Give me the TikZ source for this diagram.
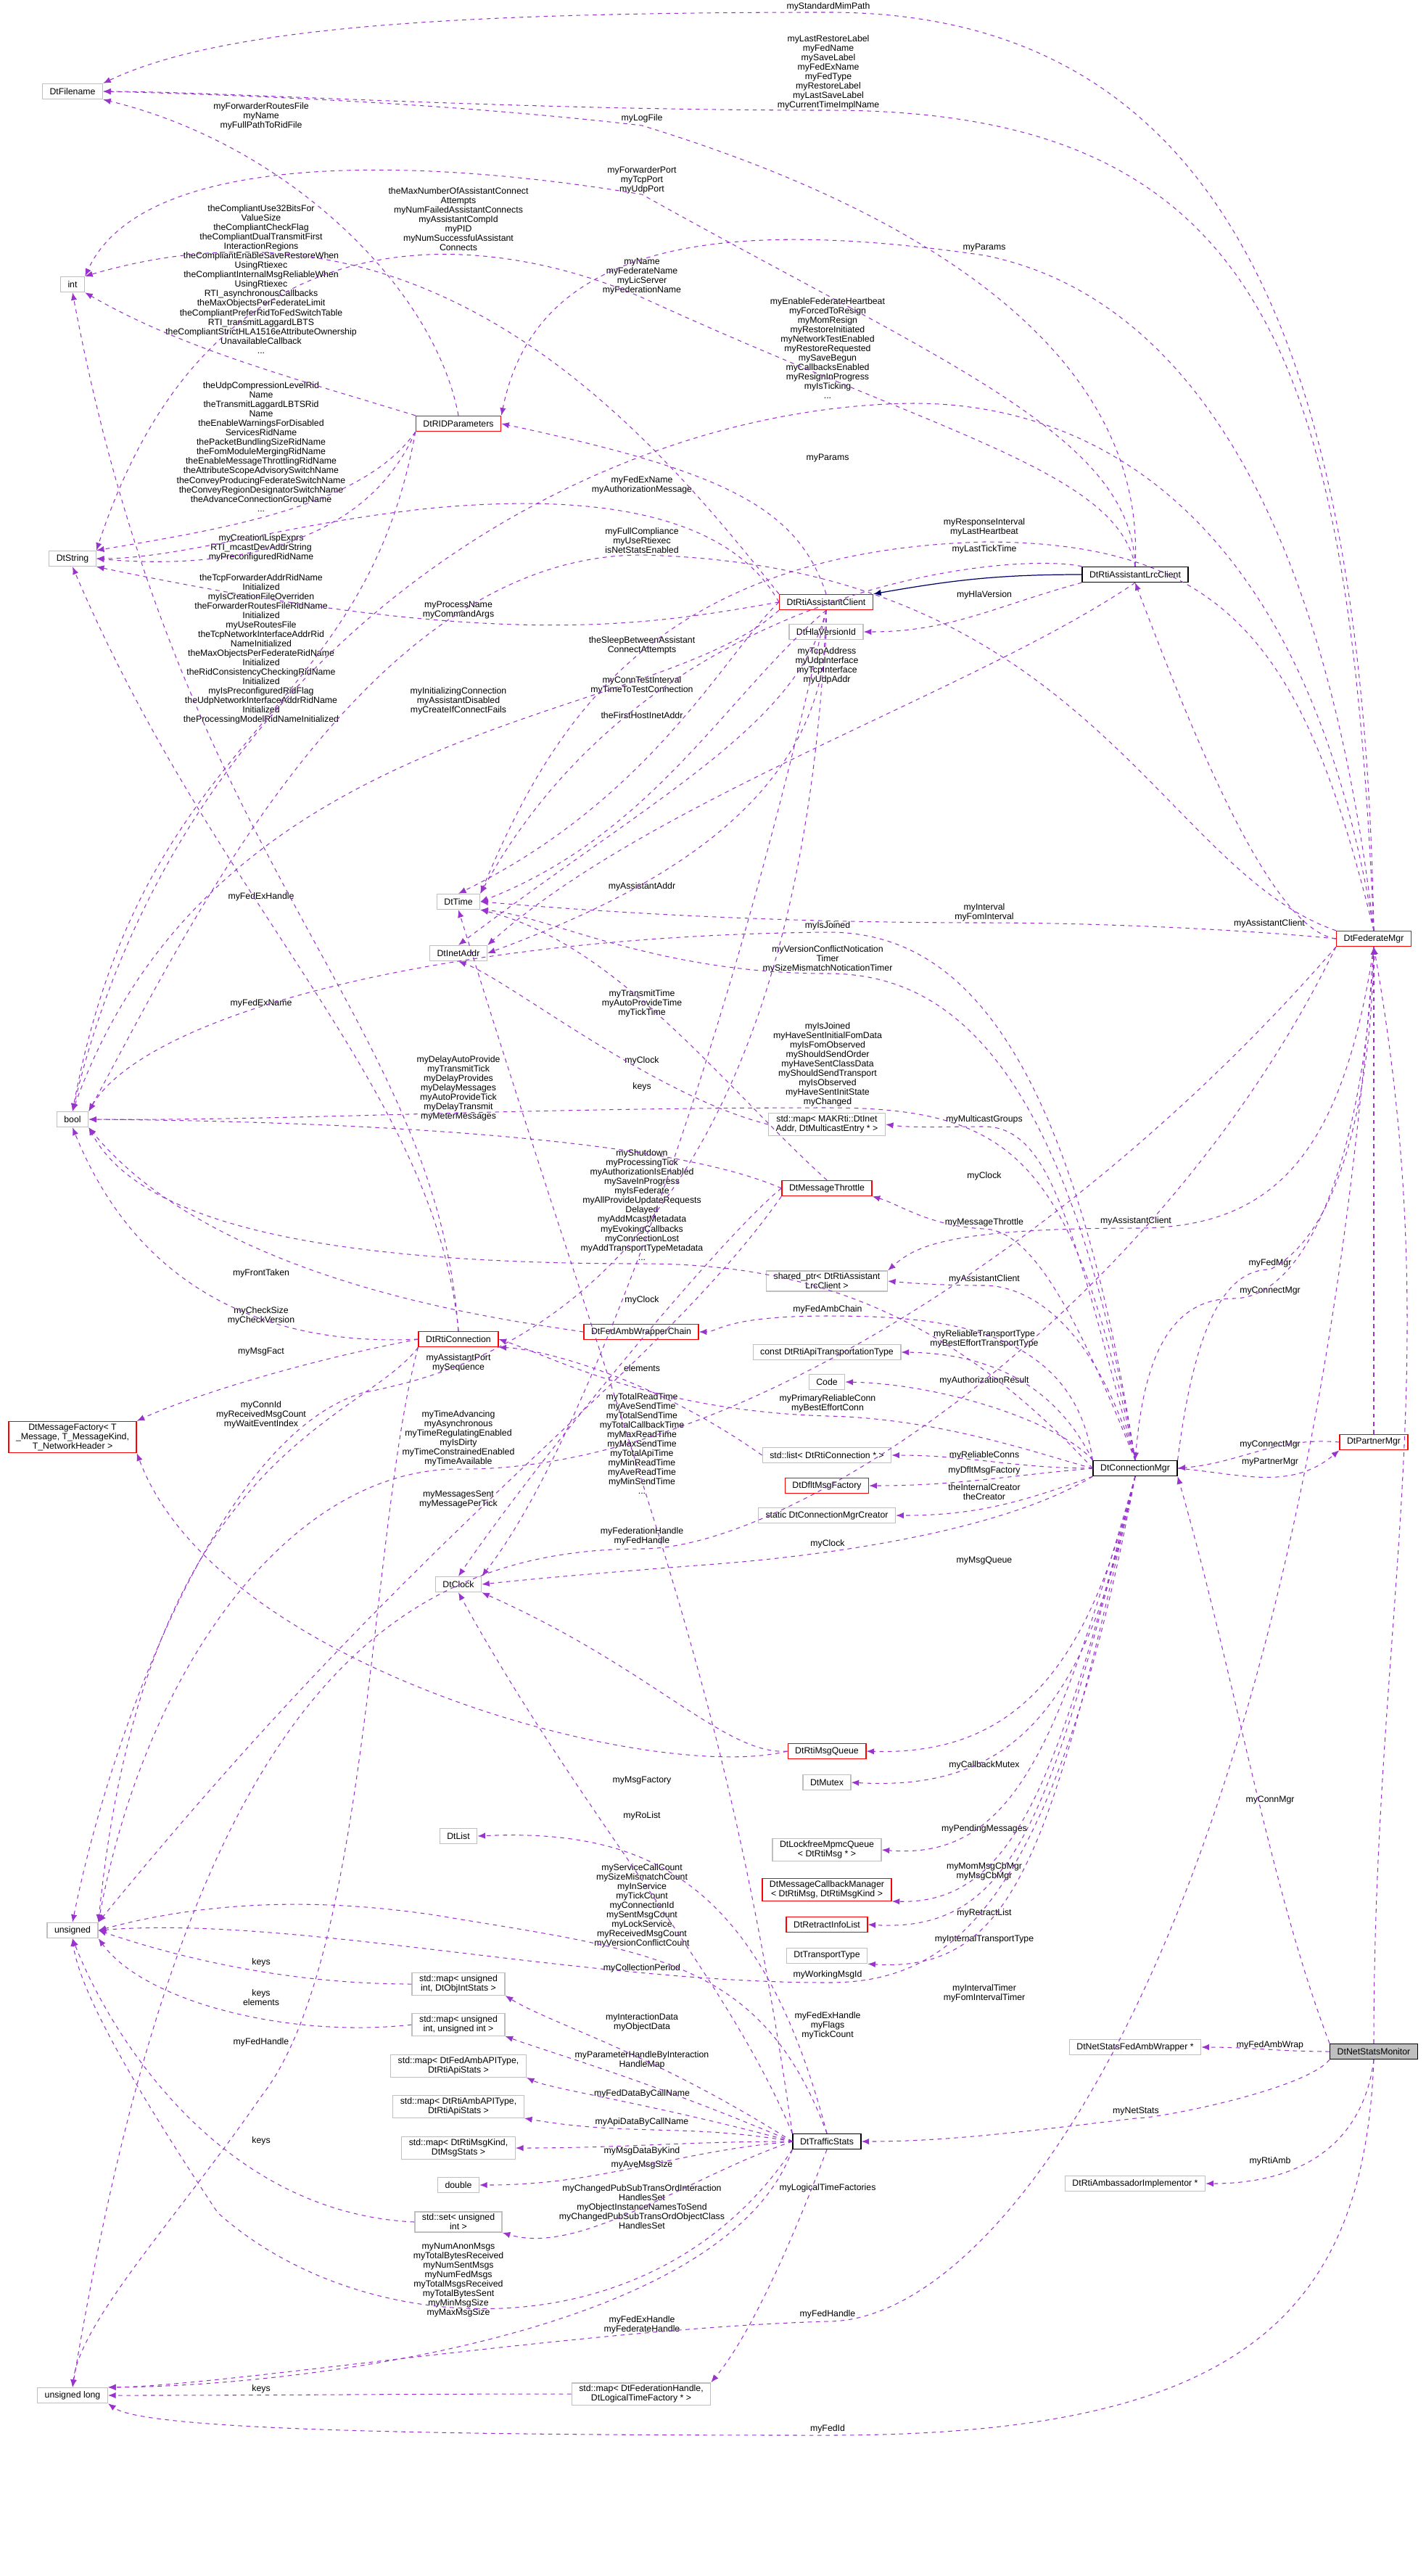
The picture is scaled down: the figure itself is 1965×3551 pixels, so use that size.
\documentclass[tikz,border=0pt]{standalone}
\usepackage{fontspec}
\setmainfont{Liberation Sans}
\usetikzlibrary{arrows.meta}
\definecolor{edgec}{RGB}{154,50,205}
\definecolor{boxgray}{RGB}{191,191,191}
\tikzset{
  cls/.style={draw=boxgray, line width=0.4pt, minimum height=0.21cm, inner xsep=0.1cm, inner ysep=0.03cm, align=center, font=\fontsize{3.5}{3.7}\selectfont},
  redcls/.style={cls, draw=red},
  blkcls/.style={cls, draw=black},
  rootcls/.style={cls, draw=black, fill=boxgray},
  lbl/.style={align=center, inner sep=0pt, font=\fontsize{3.5}{3.7}\selectfont},
  mem/.style={draw=edgec, line width=0.3pt, dash pattern=on 1.6pt off 1.6pt, -{Latex[length=3pt,width=2.4pt]}},
  inh/.style={draw=blue!40!black, line width=0.35pt, -{Latex[length=3pt,width=2.4pt]}}
}
\begin{document}
\begin{tikzpicture}[x=0.01cm, y=-0.01cm]
    \useasboundingbox (0,0) rectangle (1965,3551);
    % classes, left column
    \node[cls] (filename) at (100,126) {DtFilename};
    \node[cls] (int) at (100,392) {int};
    \node[cls] (string) at (100,770) {DtString};
    \node[cls] (bool) at (100,1543) {bool};
    \node[redcls] (msgfac) at (100,1981) {DtMessageFactory\textless{} T\\\_Message, T\_MessageKind,\\T\_NetworkHeader \textgreater};
    \node[cls] (unsig) at (100,2661) {unsigned};
    \node[cls] (ulong) at (100,3302) {unsigned long};
    % second column
    \node[redcls] (rid) at (632,584) {DtRIDParameters};
    \node[cls] (time) at (632,1243) {DtTime};
    \node[cls] (inet) at (632,1314) {DtInetAddr};
    \node[redcls] (rticonn) at (632,1846) {DtRtiConnection};
    \node[cls] (clock) at (632,2184) {DtClock};
    \node[cls] (dlist) at (632,2531) {DtList};
    \node[cls] (mapobj) at (632,2735) {std::map\textless{} unsigned\\int, DtObjIntStats \textgreater};
    \node[cls] (mapuu) at (632,2791) {std::map\textless{} unsigned\\int, unsigned int \textgreater};
    \node[cls] (mapfed) at (632,2848) {std::map\textless{} DtFedAmbAPIType,\\DtRtiApiStats \textgreater};
    \node[cls] (maprti) at (632,2904) {std::map\textless{} DtRtiAmbAPIType,\\DtRtiApiStats \textgreater};
    \node[cls] (mapkind) at (632,2961) {std::map\textless{} DtRtiMsgKind,\\DtMsgStats \textgreater};
    \node[cls] (dbl) at (632,3012) {double};
    \node[cls] (setu) at (632,3063) {std::set\textless{} unsigned\\int \textgreater};
    \node[redcls] (chain) at (884,1836) {DtFedAmbWrapperChain};
    \node[cls] (mapfh) at (884,3300) {std::map\textless{} DtFederationHandle,\\DtLogicalTimeFactory * \textgreater};
    % third column
    \node[redcls] (aclient) at (1139,830) {DtRtiAssistantClient};
    \node[cls] (hla) at (1139,871) {DtHlaVersionId};
    \node[cls] (mapmc) at (1140,1550) {std::map\textless{} MAKRti::DtInet\\Addr, DtMulticastEntry * \textgreater};
    \node[redcls] (throttle) at (1140,1638) {DtMessageThrottle};
    \node[cls] (shptr) at (1140,1766) {shared\_ptr\textless{} DtRtiAssistant\\LrcClient \textgreater};
    \node[cls] (ctype) at (1140,1864) {const DtRtiApiTransportationType};
    \node[cls] (code) at (1140,1905) {Code};
    \node[cls] (slist) at (1140,2006) {std::list\textless{} DtRtiConnection * \textgreater};
    \node[redcls] (dflt) at (1140,2048) {DtDfltMsgFactory};
    \node[cls] (creator) at (1140,2089) {static DtConnectionMgrCreator};
    \node[redcls] (msgq) at (1140,2414) {DtRtiMsgQueue};
    \node[cls] (mutex) at (1140,2457) {DtMutex};
    \node[cls] (lfq) at (1140,2550) {DtLockfreeMpmcQueue\\\textless{} DtRtiMsg * \textgreater};
    \node[redcls] (cbmgr) at (1140,2605) {DtMessageCallbackManager\\\textless{} DtRtiMsg, DtRtiMsgKind \textgreater};
    \node[redcls] (retract) at (1140,2653) {DtRetractInfoList};
    \node[cls] (ttype) at (1140,2696) {DtTransportType};
    \node[blkcls] (traffic) at (1140,2952) {DtTrafficStats};
    % fourth and fifth columns
    \node[blkcls] (lrc) at (1565,792) {DtRtiAssistantLrcClient};
    \node[blkcls] (conn) at (1565,2024) {DtConnectionMgr};
    \node[cls] (wrap) at (1565,2822) {DtNetStatsFedAmbWrapper *};
    \node[cls] (ambimpl) at (1565,3010) {DtRtiAmbassadorImplementor *};
    \node[redcls] (fedmgr) at (1894,1294) {DtFederateMgr};
    \node[redcls] (partner) at (1894,1988) {DtPartnerMgr};
    \node[rootcls] (monitor) at (1894,2828) {DtNetStatsMonitor};

    % labels
    \node[lbl] (l01) at (1142,9) {myStandardMimPath};
    \node[lbl] (l02) at (1142,100) {myLastRestoreLabel\\myFedName\\mySaveLabel\\myFedExName\\myFedType\\myRestoreLabel\\myLastSaveLabel\\myCurrentTimeImplName};
    \node[lbl] (l03) at (360,160) {myForwarderRoutesFile\\myName\\myFullPathToRidFile};
    \node[lbl] (l04) at (885,163) {myLogFile};
    \node[lbl] (l05) at (885,248) {myForwarderPort\\myTcpPort\\myUdpPort};
    \node[lbl] (l06) at (632,302) {theMaxNumberOfAssistantConnect\\Attempts\\myNumFailedAssistantConnects\\myAssistantCompId\\myPID\\myNumSuccessfulAssistant\\Connects};
    \node[lbl] (l07) at (360,385) {theCompliantUse32BitsFor\\ValueSize\\theCompliantCheckFlag\\theCompliantDualTransmitFirst\\InteractionRegions\\theCompliantEnableSaveRestoreWhen\\UsingRtiexec\\theCompliantInternalMsgReliableWhen\\UsingRtiexec\\RTI\_asynchronousCallbacks\\theMaxObjectsPerFederateLimit\\theCompliantPreferRidToFedSwitchTable\\RTI\_transmitLaggardLBTS\\theCompliantStrictHLA1516eAttributeOwnership\\UnavailableCallback\\...};
    \node[lbl] (l08) at (1357,342) {myParams};
    \node[lbl] (l09) at (885,381) {myName\\myFederateName\\myLicServer\\myFederationName};
    \node[lbl] (l10) at (1141,480) {myEnableFederateHeartbeat\\myForcedToResign\\myMomResign\\myRestoreInitiated\\myNetworkTestEnabled\\myRestoreRequested\\mySaveBegun\\myCallbacksEnabled\\myResignInProgress\\myIsTicking\\...};
    \node[lbl] (l11) at (360,616) {theUdpCompressionLevelRid\\Name\\theTransmitLaggardLBTSRid\\Name\\theEnableWarningsForDisabled\\ServicesRidName\\thePacketBundlingSizeRidName\\theFomModuleMergingRidName\\theEnableMessageThrottlingRidName\\theAttributeScopeAdvisorySwitchName\\theConveyProducingFederateSwitchName\\theConveyRegionDesignatorSwitchName\\theAdvanceConnectionGroupName\\...};
    \node[lbl] (l12) at (1141,632) {myParams};
    \node[lbl] (l13) at (885,669) {myFedExName\\myAuthorizationMessage};
    \node[lbl] (l14) at (1357,727) {myResponseInterval\\myLastHeartbeat};
    \node[lbl] (l15) at (885,745) {myFullCompliance\\myUseRtiexec\\isNetStatsEnabled};
    \node[lbl] (l16) at (360,755) {myCreationLispExprs\\RTI\_mcastDevAddrString\\myPreconfiguredRidName};
    \node[lbl] (l17) at (1357,757) {myLastTickTime};
    \node[lbl] (l18) at (1357,820) {myHlaVersion};
    \node[lbl] (l19) at (632,841) {myProcessName\\myCommandArgs};
    \node[lbl] (l20) at (360,895) {theTcpForwarderAddrRidName\\Initialized\\myIsCreationFileOverriden\\theForwarderRoutesFileRidName\\Initialized\\myUseRoutesFile\\theTcpNetworkInterfaceAddrRid\\NameInitialized\\theMaxObjectsPerFederateRidName\\Initialized\\theRidConsistencyCheckingRidName\\Initialized\\myIsPreconfiguredRidFlag\\theUdpNetworkInterfaceAddrRidName\\Initialized\\theProcessingModelRidNameInitialized};
    \node[lbl] (l21) at (885,890) {theSleepBetweenAssistant\\ConnectAttempts};
    \node[lbl] (l22) at (1140,918) {myTcpAddress\\myUdpInterface\\myTcpInterface\\myUdpAddr};
    \node[lbl] (l23) at (885,945) {myConnTestInterval\\myTimeToTestConnection};
    \node[lbl] (l24) at (632,966) {myInitializingConnection\\myAssistantDisabled\\myCreateIfConnectFails};
    \node[lbl] (l25) at (885,986) {theFirstHostInetAddr};
    \node[lbl] (l26) at (885,1222) {myAssistantAddr};
    \node[lbl] (l27) at (360,1236) {myFedExHandle};
    \node[lbl] (l28) at (1357,1258) {myInterval\\myFomInterval};
    \node[lbl] (l29) at (1750,1273) {myAssistantClient};
    \node[lbl] (l30) at (1141,1276) {myIsJoined};
    \node[lbl] (l31) at (1141,1322) {myVersionConflictNotication\\Timer\\mySizeMismatchNoticationTimer};
    \node[lbl] (l32) at (885,1383) {myTransmitTime\\myAutoProvideTime\\myTickTime};
    \node[lbl] (l33) at (360,1383) {myFedExName};
    \node[lbl] (l34) at (1141,1467) {myIsJoined\\myHaveSentInitialFomData\\myIsFomObserved\\myShouldSendOrder\\myHaveSentClassData\\myShouldSendTransport\\myIsObserved\\myHaveSentInitState\\myChanged};
    \node[lbl] (l35) at (885,1462) {myClock};
    \node[lbl] (l36) at (885,1498) {keys};
    \node[lbl] (l37) at (632,1500) {myDelayAutoProvide\\myTransmitTick\\myDelayProvides\\myDelayMessages\\myAutoProvideTick\\myDelayTransmit\\myMeterMessages};
    \node[lbl] (l38) at (1357,1543) {myMulticastGroups};
    \node[lbl] (l39) at (885,1661) {myShutdown\\myProcessingTick\\myAuthorizationIsEnabled\\mySaveInProgress\\myIsFederate\\myAllProvideUpdateRequests\\Delayed\\myAddMcastMetadata\\myEvokingCallbacks\\myConnectionLost\\myAddTransportTypeMetadata\\...};
    \node[lbl] (l40) at (1357,1621) {myClock};
    \node[lbl] (l41) at (1566,1683) {myAssistantClient};
    \node[lbl] (l42) at (1357,1685) {myMessageThrottle};
    \node[lbl] (l43) at (1751,1741) {myFedMgr};
    \node[lbl] (l44) at (360,1755) {myFrontTaken};
    \node[lbl] (l45) at (1357,1763) {myAssistantClient};
    \node[lbl] (l46) at (1751,1779) {myConnectMgr};
    \node[lbl] (l47) at (885,1792) {myClock};
    \node[lbl] (l48) at (1141,1805) {myFedAmbChain};
    \node[lbl] (l49) at (360,1814) {myCheckSize\\myCheckVersion};
    \node[lbl] (l50) at (1357,1846) {myReliableTransportType\\myBestEffortTransportType};
    \node[lbl] (l51) at (360,1864) {myMsgFact};
    \node[lbl] (l52) at (632,1879) {myAssistantPort\\mySequence};
    \node[lbl] (l53) at (885,1886) {elements};
    \node[lbl] (l54) at (1357,1903) {myAuthorizationResult};
    \node[lbl] (l55) at (1141,1935) {myPrimaryReliableConn\\myBestEffortConn};
    \node[lbl] (l56) at (360,1950) {myConnId\\myReceivedMsgCount\\myWaitEventIndex};
    \node[lbl] (l57) at (632,1983) {myTimeAdvancing\\myAsynchronous\\myTimeRegulatingEnabled\\myIsDirty\\myTimeConstrainedEnabled\\myTimeAvailable};
    \node[lbl] (l58) at (885,1990) {myTotalReadTime\\myAveSendTime\\myTotalSendTime\\myTotalCallbackTime\\myMaxReadTime\\myMaxSendTime\\myTotalApiTime\\myMinReadTime\\myAveReadTime\\myMinSendTime\\...};
    \node[lbl] (l59) at (1751,1991) {myConnectMgr};
    \node[lbl] (l60) at (1357,2006) {myReliableConns};
    \node[lbl] (l61) at (1751,2016) {myPartnerMgr};
    \node[lbl] (l62) at (1357,2027) {myDfltMsgFactory};
    \node[lbl] (l63) at (1357,2057) {theInternalCreator\\theCreator};
    \node[lbl] (l64) at (632,2067) {myMessagesSent\\myMessagePerTick};
    \node[lbl] (l65) at (885,2118) {myFederationHandle\\myFedHandle};
    \node[lbl] (l66) at (1141,2128) {myClock};
    \node[lbl] (l67) at (1357,2151) {myMsgQueue};
    \node[lbl] (l68) at (1357,2433) {myCallbackMutex};
    \node[lbl] (l69) at (885,2455) {myMsgFactory};
    \node[lbl] (l70) at (1751,2481) {myConnMgr};
    \node[lbl] (l71) at (885,2503) {myRoList};
    \node[lbl] (l72) at (1357,2521) {myPendingMessages};
    \node[lbl] (l73) at (1357,2580) {myMomMsgCbMgr\\myMsgCbMgr};
    \node[lbl] (l74) at (885,2627) {myServiceCallCount\\mySizeMismatchCount\\myInService\\myTickCount\\myConnectionId\\mySentMsgCount\\myLockService\\myReceivedMsgCount\\myVersionConflictCount};
    \node[lbl] (l75) at (1357,2637) {myRetractList};
    \node[lbl] (l76) at (1357,2673) {myInternalTransportType};
    \node[lbl] (l77) at (360,2705) {keys};
    \node[lbl] (l78) at (885,2713) {myCollectionPeriod};
    \node[lbl] (l79) at (1141,2722) {myWorkingMsgId};
    \node[lbl] (l80) at (1357,2748) {myIntervalTimer\\myFomIntervalTimer};
    \node[lbl] (l81) at (360,2754) {keys\\elements};
    \node[lbl] (l82) at (885,2788) {myInteractionData\\myObjectData};
    \node[lbl] (l83) at (1141,2792) {myFedExHandle\\myFlags\\myTickCount};
    \node[lbl] (l84) at (360,2815) {myFedHandle};
    \node[lbl] (l85) at (1751,2819) {myFedAmbWrap};
    \node[lbl] (l86) at (885,2840) {myParameterHandleByInteraction\\HandleMap};
    \node[lbl] (l87) at (885,2886) {myFedDataByCallName};
    \node[lbl] (l88) at (1566,2910) {myNetStats};
    \node[lbl] (l89) at (885,2925) {myApiDataByCallName};
    \node[lbl] (l90) at (360,2951) {keys};
    \node[lbl] (l91) at (885,2965) {myMsgDataByKind};
    \node[lbl] (l92) at (1751,2979) {myRtiAmb};
    \node[lbl] (l93) at (885,2984) {myAveMsgSize};
    \node[lbl] (l94) at (1141,3016) {myLogicalTimeFactories};
    \node[lbl] (l95) at (885,3042) {myChangedPubSubTransOrdInteraction\\HandlesSet\\myObjectInstanceNamesToSend\\myChangedPubSubTransOrdObjectClass\\HandlesSet};
    \node[lbl] (l96) at (632,3143) {myNumAnonMsgs\\myTotalBytesReceived\\myNumSentMsgs\\myNumFedMsgs\\myTotalMsgsReceived\\myTotalBytesSent\\myMinMsgSize\\myMaxMsgSize};
    \node[lbl] (l97) at (1141,3190) {myFedHandle};
    \node[lbl] (l98) at (885,3205) {myFedExHandle\\myFederateHandle};
    \node[lbl] (l99) at (360,3293) {keys};
    \node[lbl] (l100) at (1141,3348) {myFedId};

    % DtFederateMgr members
    \draw[mem] (fedmgr.north) .. controls (1880,500) and (1700,17) .. (1142,17) .. controls (600,17) and (300,40) .. (filename.north east);
    \draw[mem] (fedmgr.north) .. controls (1860,500) and (1750,152) .. (1142,152) .. controls (700,152) and (300,126) .. (filename.east);
    \draw[mem] (fedmgr.north) .. controls (1820,650) and (1600,400) .. (1357,352) .. controls (1000,300) and (740,330) .. (rid.north east);
    \draw[mem] (fedmgr.north) .. controls (1800,700) and (1500,556) .. (1260,556) .. controls (800,560) and (250,900) .. (bool.north);
    \draw[mem] (fedmgr.north) .. controls (1800,900) and (1700,747) .. (1357,747) .. controls (900,760) and (760,1000) .. (time.north east);
    \draw[mem] (fedmgr.north west) .. controls (1600,1200) and (1500,780) .. (885,765) .. controls (500,765) and (250,1300) .. (bool.north east);
    \draw[mem] (fedmgr.west) .. controls (1700,1280) and (1500,1272) .. (1357,1272) .. controls (1000,1272) and (750,1250) .. (time.east);
    \draw[mem] (fedmgr.west) .. controls (1750,1282) and (1640,1000) .. (lrc.south);
    \draw[mem] (fedmgr.south) .. controls (1850,1600) and (1750,1693) .. (1566,1693) .. controls (1300,1693) and (1260,1720) .. (shptr.north east);
    \draw[mem] (fedmgr.south) .. controls (1880,1600) and (1800,1790) .. (1700,1790) .. controls (1600,1790) and (1575,1900) .. (conn.north);
    \draw[mem] (fedmgr.south) .. controls (1800,2600) and (1400,3200) .. (1141,3200) .. controls (800,3210) and (300,3290) .. (ulong.north east);
    \draw[mem] (fedmgr.south west) .. controls (1500,1700) and (1000,2030) .. (632,2025) .. controls (400,2025) and (200,2300) .. (unsig.north east);
    \draw[mem] (fedmgr.south west) .. controls (1600,1800) and (1100,2135) .. (885,2135) .. controls (500,2135) and (250,2400) .. (ulong.north);
    % DtConnectionMgr members
    \draw[mem] (conn.north) .. controls (1480,1700) and (1450,1553) .. (1357,1553) .. controls (1300,1553) and (1260,1555) .. (mapmc.east);
    \draw[mem] (conn.north) .. controls (1480,1800) and (1420,1696) .. (1357,1694) .. controls (1280,1690) and (1240,1660) .. (throttle.south east);
    \draw[mem] (conn.north) .. controls (1500,1800) and (1400,1772) .. (1357,1772) .. controls (1300,1772) and (1260,1769) .. (shptr.east);
    \draw[mem] (conn.north west) .. controls (1480,1830) and (1300,1814) .. (1141,1814) .. controls (1000,1814) and (990,1836) .. (chain.east);
    \draw[mem] (conn.north west) .. controls (1470,1940) and (1400,1866) .. (ctype.east);
    \draw[mem] (conn.north west) .. controls (1460,1960) and (1300,1908) .. (code.east);
    \draw[mem] (conn.west) .. controls (1450,2010) and (1300,1955) .. (1141,1952) .. controls (900,1945) and (760,1870) .. (rticonn.east);
    \draw[mem] (conn.west) to[out=180,in=0] (slist.east);
    \draw[mem] (conn.west) to[out=185,in=0] (dflt.east);
    \draw[mem] (conn.south west) to[out=200,in=0] (creator.east);
    \draw[mem] (conn.south west) .. controls (1400,2100) and (1200,2138) .. (1000,2155) .. controls (800,2170) and (700,2180) .. (clock.east);
    \draw[mem] (conn.south) .. controls (1500,2300) and (1400,2420) .. (msgq.east);
    \draw[mem] (conn.south) .. controls (1500,2350) and (1400,2470) .. (mutex.east);
    \draw[mem] (conn.south) .. controls (1460,2400) and (1400,2565) .. (lfq.east);
    \draw[mem] (conn.south) .. controls (1460,2450) and (1400,2625) .. (cbmgr.south east);
    \draw[mem] (conn.south) .. controls (1450,2500) and (1400,2665) .. (retract.east);
    \draw[mem] (conn.south) .. controls (1450,2550) and (1400,2720) .. (ttype.south east);
    \draw[mem] (conn.south) .. controls (1450,2650) and (1300,2733) .. (1141,2733) .. controls (800,2733) and (400,2640) .. (unsig.east);
    \draw[mem] (conn.north) .. controls (1480,1600) and (1400,1527) .. (1141,1527) .. controls (700,1527) and (400,1545) .. (bool.east);
    \draw[mem] (conn.north) .. controls (1470,1400) and (1300,1285) .. (1141,1285) .. controls (600,1290) and (200,1400) .. (bool.north east);
    \draw[mem] (conn.north) .. controls (1470,1450) and (1300,1342) .. (1141,1342) .. controls (900,1342) and (750,1260) .. (time.south east);
    \draw[mem] (conn.west) .. controls (1300,1800) and (1100,1742) .. (885,1742) .. controls (500,1742) and (200,1700) .. (bool.south east);
    \draw[mem] (conn.north east) .. controls (1650,1800) and (1700,1750) .. (1751,1750) .. controls (1850,1700) and (1890,1500) .. (fedmgr.south);
    \draw[mem] (conn.east) to[out=-5,in=220] (partner.south west);
    % DtPartnerMgr and DtNetStatsMonitor members
    \draw[mem] (partner.west) to[out=175,in=5] (conn.east);
    \draw[mem] (partner.north) to[out=90,in=-90] (fedmgr.south);
    \draw[mem] (monitor.north) to[out=90,in=-80] (fedmgr.south);
    \draw[mem] (monitor.north west) .. controls (1750,2600) and (1700,2300) .. (conn.south east);
    \draw[mem] (monitor.west) to[out=180,in=0] (wrap.east);
    \draw[mem] (monitor.south west) .. controls (1800,2880) and (1600,2920) .. (1566,2920) .. controls (1400,2940) and (1300,2952) .. (traffic.east);
    \draw[mem] (monitor.south) .. controls (1880,2950) and (1800,3010) .. (ambimpl.east);
    \draw[mem] (monitor.south) .. controls (1880,3200) and (1700,3357) .. (1141,3357) .. controls (600,3357) and (200,3350) .. (ulong.south east);
    % DtRtiAssistantLrcClient members
    \draw[inh] (lrc.west) to[out=180,in=10] (aclient.north east);
    \draw[mem] (lrc.south west) to[out=195,in=0] (hla.east);
    \draw[mem] (lrc.south) .. controls (1350,950) and (900,1100) .. (inet.north east);
    \draw[mem] (lrc.north west) .. controls (1400,760) and (900,800) .. (time.north east);
    \draw[mem] (lrc.north) .. controls (1540,650) and (1300,600) .. (885,410) .. controls (700,330) and (300,250) .. (string.north east);
    \draw[mem] (lrc.north) .. controls (1560,600) and (1300,500) .. (885,268) .. controls (600,220) and (200,200) .. (int.north east);
    \draw[mem] (lrc.north) .. controls (1580,500) and (1300,300) .. (885,173) .. controls (600,140) and (300,130) .. (filename.east);
    % DtRtiAssistantClient members
    \draw[mem] (aclient.north west) .. controls (900,600) and (600,240) .. (int.north east);
    \draw[mem] (aclient.north) .. controls (1100,700) and (1000,650) .. (rid.east);
    \draw[mem] (aclient.west) .. controls (1000,700) and (800,682) .. (600,700) .. controls (400,720) and (250,770) .. (string.east);
    \draw[mem] (aclient.west) .. controls (900,860) and (700,900) .. (string.south east);
    \draw[mem] (aclient.west) .. controls (1000,900) and (900,1100) .. (time.north);
    \draw[mem] (aclient.south) .. controls (1000,960) and (900,1150) .. (time.east);
    \draw[mem] (aclient.south) .. controls (1100,1000) and (900,1100) .. (inet.north);
    \draw[mem] (aclient.south) .. controls (1150,1100) and (900,1230) .. (inet.east);
    \draw[mem] (aclient.south west) .. controls (900,1000) and (300,980) .. (bool.north);
    \draw[mem] (aclient.south) .. controls (1000,1470) and (800,2000) .. (clock.north east);
    \draw[mem] (aclient.south) .. controls (1100,1800) and (632,1893) .. (500,1920) .. controls (300,1980) and (150,2400) .. (unsig.north);
    % DtRIDParameters members
    \draw[mem] (rid.north) .. controls (600,400) and (400,200) .. (filename.south east);
    \draw[mem] (rid.north west) .. controls (400,520) and (250,480) .. (int.south east);
    \draw[mem] (rid.south west) .. controls (500,700) and (300,730) .. (string.north east);
    \draw[mem] (rid.south west) .. controls (500,760) and (300,785) .. (string.east);
    \draw[mem] (rid.south west) .. controls (500,1000) and (200,1000) .. (bool.north);
    % DtRtiConnection members
    \draw[mem] (rticonn.west) .. controls (400,1855) and (200,1800) .. (bool.south);
    \draw[mem] (rticonn.west) .. controls (400,1880) and (250,1930) .. (msgfac.north east);
    \draw[mem] (rticonn.south west) .. controls (500,1960) and (200,2000) .. (unsig.north east);
    \draw[mem] (rticonn.north) .. controls (600,1500) and (300,1250) .. (string.south);
    \draw[mem] (rticonn.north) .. controls (600,1400) and (250,1200) .. (int.south);
    \draw[mem] (rticonn.south west) .. controls (510,2100) and (510,2700) .. (360,2890) .. controls (250,3050) and (110,3200) .. (ulong.north);
    % other members
    \draw[mem] (chain.west) .. controls (700,1820) and (300,1770) .. (bool.south east);
    \draw[mem] (throttle.north) .. controls (1000,1500) and (850,1300) .. (time.south east);
    \draw[mem] (throttle.west) .. controls (900,1560) and (400,1545) .. (bool.east);
    \draw[mem] (throttle.west) .. controls (1000,1700) and (750,2000) .. (clock.north);
    \draw[mem] (throttle.south west) .. controls (900,1900) and (600,2080) .. (unsig.north east);
    \draw[mem] (mapmc.west) .. controls (900,1510) and (700,1350) .. (inet.south);
    \draw[mem] (slist.west) .. controls (900,1900) and (750,1860) .. (rticonn.south east);
    \draw[mem] (msgq.west) .. controls (900,2460) and (300,2300) .. (msgfac.south east);
    \draw[mem] (msgq.west) .. controls (1000,2420) and (900,2300) .. (clock.south east);
    % DtTrafficStats members
    \draw[mem] (traffic.north west) .. controls (1000,2300) and (885,2070) .. (time.south);
    \draw[mem] (traffic.north) .. controls (1050,2600) and (900,2520) .. (dlist.east);
    \draw[mem] (traffic.north) .. controls (1050,2700) and (900,2690) .. (600,2640) .. controls (400,2610) and (250,2630) .. (unsig.east);
    \draw[mem] (traffic.north west) .. controls (1000,2720) and (800,2500) .. (clock.south);
    \draw[mem] (traffic.west) .. controls (900,2830) and (760,2790) .. (mapobj.south east);
    \draw[mem] (traffic.west) .. controls (900,2870) and (760,2830) .. (mapuu.south east);
    \draw[mem] (traffic.west) .. controls (900,2900) and (760,2880) .. (mapfed.south east);
    \draw[mem] (traffic.west) to[out=170,in=-10] (maprti.south east);
    \draw[mem] (traffic.west) to[out=180,in=0] (mapkind.east);
    \draw[mem] (traffic.west) to[out=185,in=0] (dbl.east);
    \draw[mem] (traffic.west) .. controls (950,3000) and (800,3110) .. (setu.south east);
    \draw[mem] (traffic.south west) .. controls (900,3250) and (500,3230) .. (300,3050) .. controls (200,2900) and (110,2750) .. (unsig.south);
    \draw[mem] (traffic.south west) .. controls (1000,3220) and (400,3290) .. (ulong.north east);
    \draw[mem] (traffic.south) .. controls (1050,3200) and (1000,3260) .. (mapfh.north east);
    % keys of the containers
    \draw[mem] (mapobj.west) .. controls (400,2735) and (250,2700) .. (unsig.east);
    \draw[mem] (mapuu.west) .. controls (400,2810) and (200,2760) .. (unsig.south east);
    \draw[mem] (setu.west) .. controls (300,3050) and (150,2800) .. (unsig.south);
    \draw[mem] (mapfh.west) to[out=180,in=0] (ulong.east);
\end{tikzpicture}
\end{document}
